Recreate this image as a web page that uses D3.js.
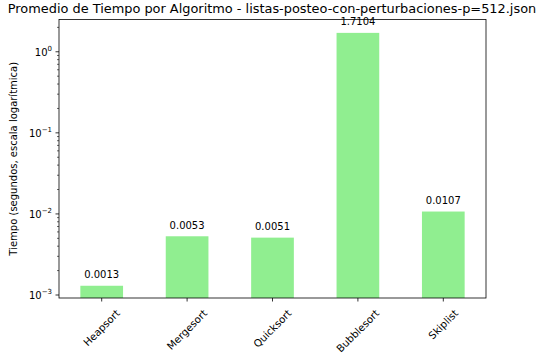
<!DOCTYPE html>
<html><head><meta charset="utf-8">
<script src="https://cdn.jsdelivr.net/npm/d3@7"></script>
<style>body{margin:0;background:#fff}text{font-family:"DejaVu Sans",sans-serif}</style>
</head><body><svg id="c" width="543" height="360"></svg>
<script>
const categories = ["Heapsort","Mergesort","Quicksort","Bubblesort","Skiplist"];
const values = [0.0013, 0.0053, 0.0051, 1.7104, 0.0107];
const labels = ["0.0013","0.0053","0.0051","1.7104","0.0107"];
const majorTicks = [1e-3, 1e-2, 1e-1, 1e0];
const tickExps = ["−3","−2","−1","0"];
const title = "Promedio de Tiempo por Algoritmo - listas-posteo-con-perturbaciones-p=512.json";
const yLabel = "Tiempo (segundos, escala logarítmica)";

const L=59, R=486, T=19.5, B=298;
const svg = d3.select("#c");
const x = d3.scaleBand().domain(categories).range([L,R]).paddingInner(0.5).paddingOuter(0.25);
const y = d3.scaleLog().domain([Math.pow(10,-3.037), Math.pow(10,0.398)]).range([B,T]);

svg.selectAll("rect.bar").data(values).join("rect").attr("class","bar")
  .attr("x",(d,i)=>x(categories[i])).attr("width",x.bandwidth())
  .attr("y",d=>y(d)).attr("height",d=>B-y(d)).attr("fill","#90ee90");

svg.selectAll("text.vl").data(values).join("text").attr("class","vl")
  .attr("x",(d,i)=>x(categories[i])+x.bandwidth()/2).attr("y",d=>y(d)-7.5)
  .attr("text-anchor","middle").attr("font-size",10).text((d,i)=>labels[i]);

// minor ticks
const minors=[];
for(let e=-4;e<=1;e++) for(let k=2;k<=9;k++){const v=k*Math.pow(10,e); if(v>=y.domain()[0]&&v<=y.domain()[1]) minors.push(v);}
svg.selectAll("line.mn").data(minors).join("line").attr("x1",L-2).attr("x2",L)
  .attr("y1",d=>y(d)).attr("y2",d=>y(d)).attr("stroke","#000").attr("stroke-width",0.6);
svg.selectAll("line.mj").data(majorTicks).join("line").attr("x1",L-3.5).attr("x2",L)
  .attr("y1",d=>y(d)).attr("y2",d=>y(d)).attr("stroke","#000").attr("stroke-width",0.8);
const tl = svg.selectAll("text.yt").data(majorTicks).join("text").attr("class","yt")
  .attr("x",L-7).attr("y",d=>y(d)+4).attr("text-anchor","end").attr("font-size",10);
tl.append("tspan").text("10");
tl.append("tspan").attr("dy",-5).attr("font-size",7).text((d,i)=>tickExps[i]);

// x ticks
svg.selectAll("line.xt").data(categories).join("line")
  .attr("x1",d=>x(d)+x.bandwidth()/2).attr("x2",d=>x(d)+x.bandwidth()/2)
  .attr("y1",B).attr("y2",B+3.5).attr("stroke","#000").attr("stroke-width",0.8);
const xl = svg.selectAll("text.xl").data(categories).join("text").attr("class","xl")
  .attr("text-anchor","middle").attr("dominant-baseline","central").attr("font-size",10.2).text(d=>d);
xl.each(function(d){
  const w=this.getComputedTextLength(), h=10;
  const bh=(w+h)*Math.SQRT1_2;
  const cx=x(d)+x.bandwidth()/2, cy=B+10+bh/2;
  d3.select(this).attr("transform",`translate(${cx},${cy}) rotate(-45)`);
});

svg.append("rect").attr("x",L).attr("y",T).attr("width",R-L).attr("height",B-T)
  .attr("fill","none").attr("stroke","#000").attr("stroke-width",0.8);

svg.append("text").attr("x",272).attr("y",13).attr("text-anchor","middle").attr("font-size",12.9).text(title);
svg.append("text").attr("transform",`translate(17,${(T+B)/2}) rotate(-90)`).attr("text-anchor","middle")
  .attr("font-size",10).text(yLabel);
</script></body></html>
